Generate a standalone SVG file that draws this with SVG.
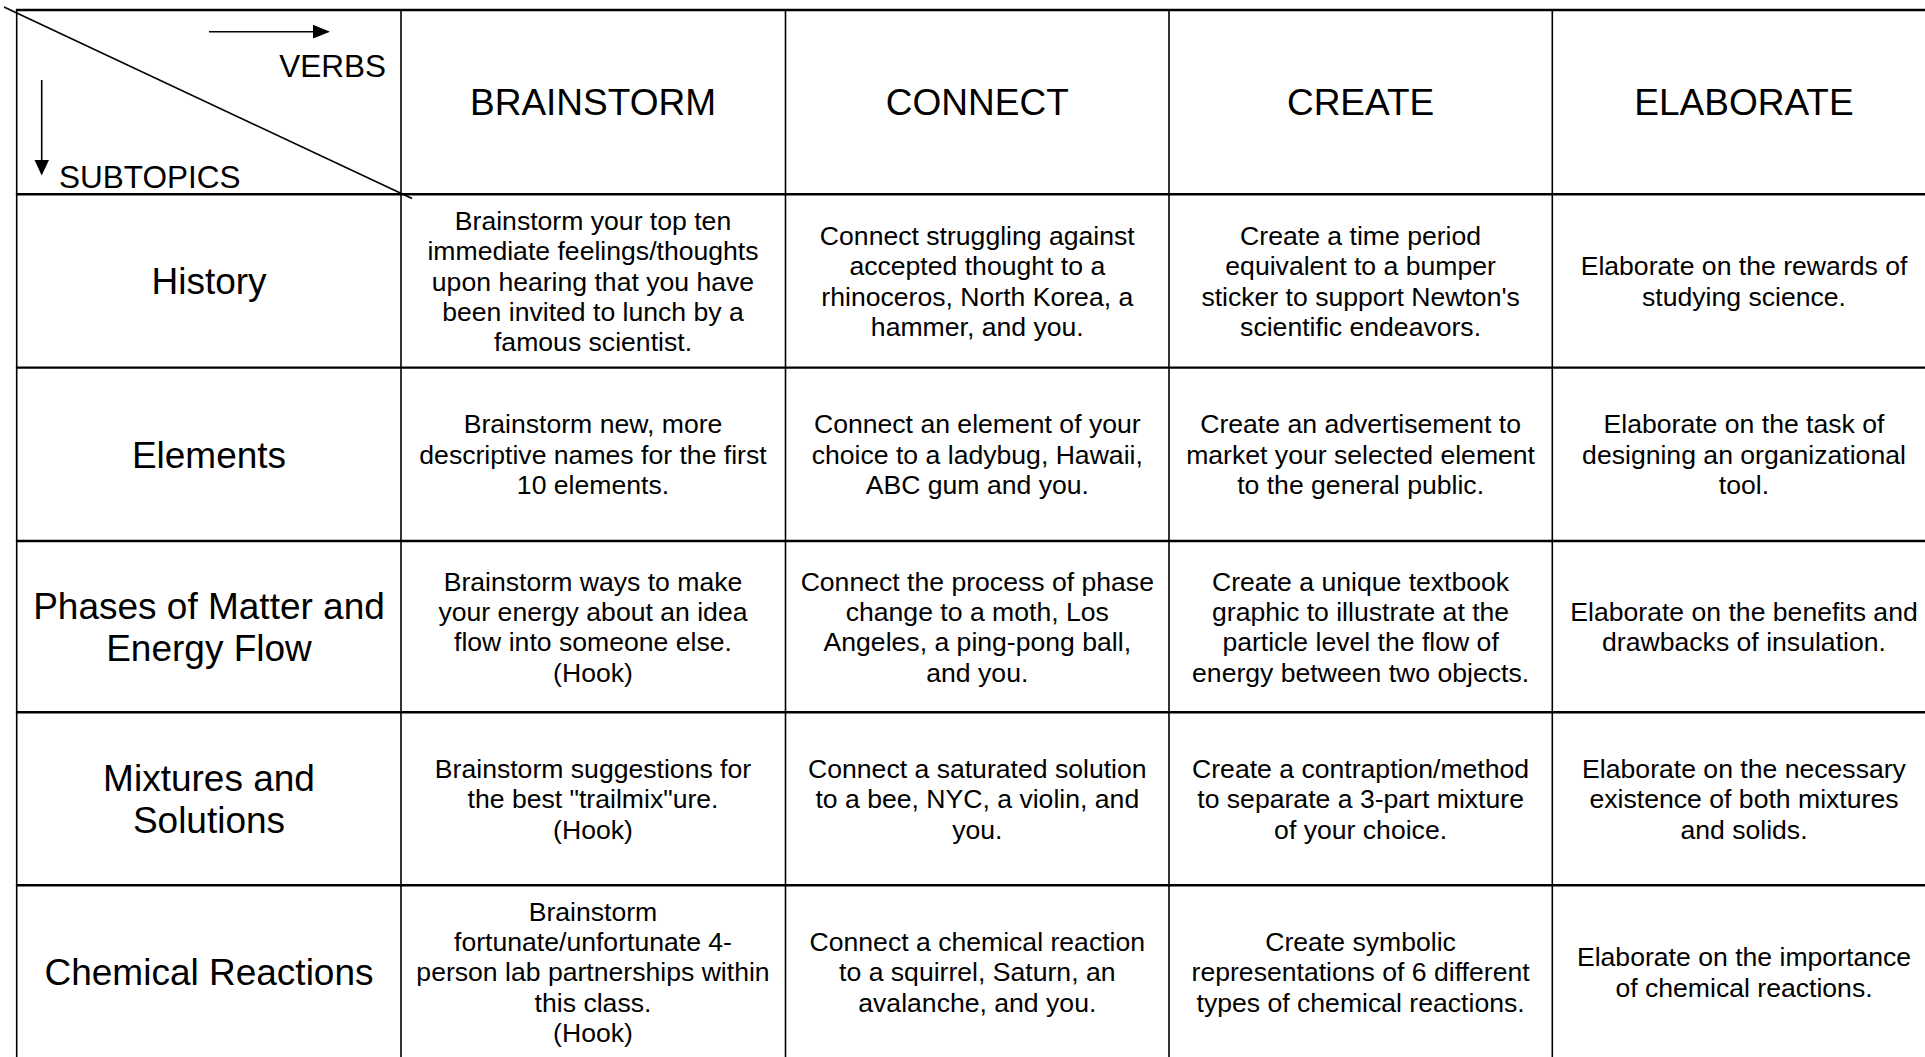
<svg xmlns="http://www.w3.org/2000/svg" width="1925" height="1057" viewBox="0 0 1925 1057">
<style>
text { font-family: "Liberation Sans", Arial, Helvetica, sans-serif; fill: #000; }
.b { font-size: 26.6px; text-anchor: middle; }
.h { font-size: 37px; text-anchor: middle; }
.ax { font-size: 31.5px; }
.hl { stroke: #000; stroke-width: 2.4; }
.vl { stroke: #000; stroke-width: 1.6; }
.conn { stroke: #000; stroke-width: 1.6; fill: none; }
.head { fill: #000; stroke: none; }
</style>
<rect x="0" y="0" width="1925" height="1057" fill="#fff"/>

<g id="grid">
<line class="hl" x1="15.9" y1="10" x2="1940" y2="10"/>
<line class="hl" x1="15.9" y1="194.3" x2="1940" y2="194.3"/>
<line class="hl" x1="15.9" y1="367.6" x2="1940" y2="367.6"/>
<line class="hl" x1="15.9" y1="541" x2="1940" y2="541"/>
<line class="hl" x1="15.9" y1="712.3" x2="1940" y2="712.3"/>
<line class="hl" x1="15.9" y1="885.3" x2="1940" y2="885.3"/>
<line class="hl" x1="15.9" y1="1058.5" x2="1940" y2="1058.5"/>
<line class="vl" x1="16.7" y1="9" x2="16.7" y2="1060"/>
<line class="vl" x1="401" y1="9" x2="401" y2="1060"/>
<line class="vl" x1="785.5" y1="9" x2="785.5" y2="1060"/>
<line class="vl" x1="1169" y1="9" x2="1169" y2="1060"/>
<line class="vl" x1="1552.3" y1="9" x2="1552.3" y2="1060"/>
<line class="vl" x1="1936" y1="9" x2="1936" y2="1060"/>
</g>

<g id="connectors">
<line class="conn" x1="4" y1="7" x2="412" y2="198.5"/>
<line class="conn" x1="209" y1="31.7" x2="315" y2="31.7"/>
<path class="head" d="M313,24.8 L330,31.7 L313,38.6 Z"/>
<line class="conn" x1="41.7" y1="80" x2="41.7" y2="162"/>
<path class="head" d="M34.5,160 L49,160 L41.7,175.5 Z"/>
</g>

<g id="corner">
<text class="ax" x="386" y="76.5" text-anchor="end">VERBS</text>
<text class="ax" x="59" y="188">SUBTOPICS</text>
</g>

<g id="head-brainstorm"><text class="h" x="593" y="115">BRAINSTORM</text></g>
<g id="head-connect"><text class="h" x="977.3" y="115">CONNECT</text></g>
<g id="head-create"><text class="h" x="1360.6" y="115">CREATE</text></g>
<g id="head-elaborate"><text class="h" x="1744" y="115">ELABORATE</text></g>

<g id="row-history">
<text class="h" x="209" y="294.3">History</text>
</g>
<g id="cell-history-brainstorm"><text class="b" y="229.7"><tspan x="593">Brainstorm your top ten</tspan><tspan x="593" dy="30.4">immediate feelings/thoughts</tspan><tspan x="593" dy="30.4">upon hearing that you have</tspan><tspan x="593" dy="30.4">been invited to lunch by a</tspan><tspan x="593" dy="30.4">famous scientist.</tspan></text></g>
<g id="cell-history-connect"><text class="b" y="244.9"><tspan x="977.3">Connect struggling against</tspan><tspan x="977.3" dy="30.4">accepted thought to a</tspan><tspan x="977.3" dy="30.4">rhinoceros, North Korea, a</tspan><tspan x="977.3" dy="30.4">hammer, and you.</tspan></text></g>
<g id="cell-history-create"><text class="b" y="244.9"><tspan x="1360.6">Create a time period</tspan><tspan x="1360.6" dy="30.4">equivalent to a bumper</tspan><tspan x="1360.6" dy="30.4">sticker to support Newton's</tspan><tspan x="1360.6" dy="30.4">scientific endeavors.</tspan></text></g>
<g id="cell-history-elaborate"><text class="b" y="275.3"><tspan x="1744">Elaborate on the rewards of</tspan><tspan x="1744" dy="30.4">studying science.</tspan></text></g>

<g id="row-elements">
<text class="h" x="209" y="467.6">Elements</text>
</g>
<g id="cell-elements-brainstorm"><text class="b" y="433.4"><tspan x="593">Brainstorm new, more</tspan><tspan x="593" dy="30.4">descriptive names for the first</tspan><tspan x="593" dy="30.4">10 elements.</tspan></text></g>
<g id="cell-elements-connect"><text class="b" y="433.4"><tspan x="977.3">Connect an element of your</tspan><tspan x="977.3" dy="30.4">choice to a ladybug, Hawaii,</tspan><tspan x="977.3" dy="30.4">ABC gum and you.</tspan></text></g>
<g id="cell-elements-create"><text class="b" y="433.4"><tspan x="1360.6">Create an advertisement to</tspan><tspan x="1360.6" dy="30.4">market your selected element</tspan><tspan x="1360.6" dy="30.4">to the general public.</tspan></text></g>
<g id="cell-elements-elaborate"><text class="b" y="433.4"><tspan x="1744">Elaborate on the task of</tspan><tspan x="1744" dy="30.4">designing an organizational</tspan><tspan x="1744" dy="30.4">tool.</tspan></text></g>

<g id="row-phases">
<text class="h" y="618.8"><tspan x="209">Phases of Matter and</tspan><tspan x="209" dy="42.5">Energy Flow</tspan></text>
</g>
<g id="cell-phases-brainstorm"><text class="b" y="590.6"><tspan x="593">Brainstorm ways to make</tspan><tspan x="593" dy="30.4">your energy about an idea</tspan><tspan x="593" dy="30.4">flow into someone else.</tspan><tspan x="593" dy="30.4">(Hook)</tspan></text></g>
<g id="cell-phases-connect"><text class="b" y="590.6"><tspan x="977.3">Connect the process of phase</tspan><tspan x="977.3" dy="30.4">change to a moth, Los</tspan><tspan x="977.3" dy="30.4">Angeles, a ping-pong ball,</tspan><tspan x="977.3" dy="30.4">and you.</tspan></text></g>
<g id="cell-phases-create"><text class="b" y="590.6"><tspan x="1360.6">Create a unique textbook</tspan><tspan x="1360.6" dy="30.4">graphic to illustrate at the</tspan><tspan x="1360.6" dy="30.4">particle level the flow of</tspan><tspan x="1360.6" dy="30.4">energy between two objects.</tspan></text></g>
<g id="cell-phases-elaborate"><text class="b" y="621"><tspan x="1744">Elaborate on the benefits and</tspan><tspan x="1744" dy="30.4">drawbacks of insulation.</tspan></text></g>

<g id="row-mixtures">
<text class="h" y="790.9"><tspan x="209">Mixtures and</tspan><tspan x="209" dy="42.5">Solutions</tspan></text>
</g>
<g id="cell-mixtures-brainstorm"><text class="b" y="777.9"><tspan x="593">Brainstorm suggestions for</tspan><tspan x="593" dy="30.4">the best "trailmix"ure.</tspan><tspan x="593" dy="30.4">(Hook)</tspan></text></g>
<g id="cell-mixtures-connect"><text class="b" y="777.9"><tspan x="977.3">Connect a saturated solution</tspan><tspan x="977.3" dy="30.4">to a bee, NYC, a violin, and</tspan><tspan x="977.3" dy="30.4">you.</tspan></text></g>
<g id="cell-mixtures-create"><text class="b" y="777.9"><tspan x="1360.6">Create a contraption/method</tspan><tspan x="1360.6" dy="30.4">to separate a 3-part mixture</tspan><tspan x="1360.6" dy="30.4">of your choice.</tspan></text></g>
<g id="cell-mixtures-elaborate"><text class="b" y="777.9"><tspan x="1744">Elaborate on the necessary</tspan><tspan x="1744" dy="30.4">existence of both mixtures</tspan><tspan x="1744" dy="30.4">and solids.</tspan></text></g>

<g id="row-reactions">
<text class="h" x="209" y="985.2">Chemical Reactions</text>
</g>
<g id="cell-reactions-brainstorm"><text class="b" y="920.6"><tspan x="593">Brainstorm</tspan><tspan x="593" dy="30.4">fortunate/unfortunate 4-</tspan><tspan x="593" dy="30.4">person lab partnerships within</tspan><tspan x="593" dy="30.4">this class.</tspan><tspan x="593" dy="30.4">(Hook)</tspan></text></g>
<g id="cell-reactions-connect"><text class="b" y="951"><tspan x="977.3">Connect a chemical reaction</tspan><tspan x="977.3" dy="30.4">to a squirrel, Saturn, an</tspan><tspan x="977.3" dy="30.4">avalanche, and you.</tspan></text></g>
<g id="cell-reactions-create"><text class="b" y="951"><tspan x="1360.6">Create symbolic</tspan><tspan x="1360.6" dy="30.4">representations of 6 different</tspan><tspan x="1360.6" dy="30.4">types of chemical reactions.</tspan></text></g>
<g id="cell-reactions-elaborate"><text class="b" y="966.2"><tspan x="1744">Elaborate on the importance</tspan><tspan x="1744" dy="30.4">of chemical reactions.</tspan></text></g>
</svg>
